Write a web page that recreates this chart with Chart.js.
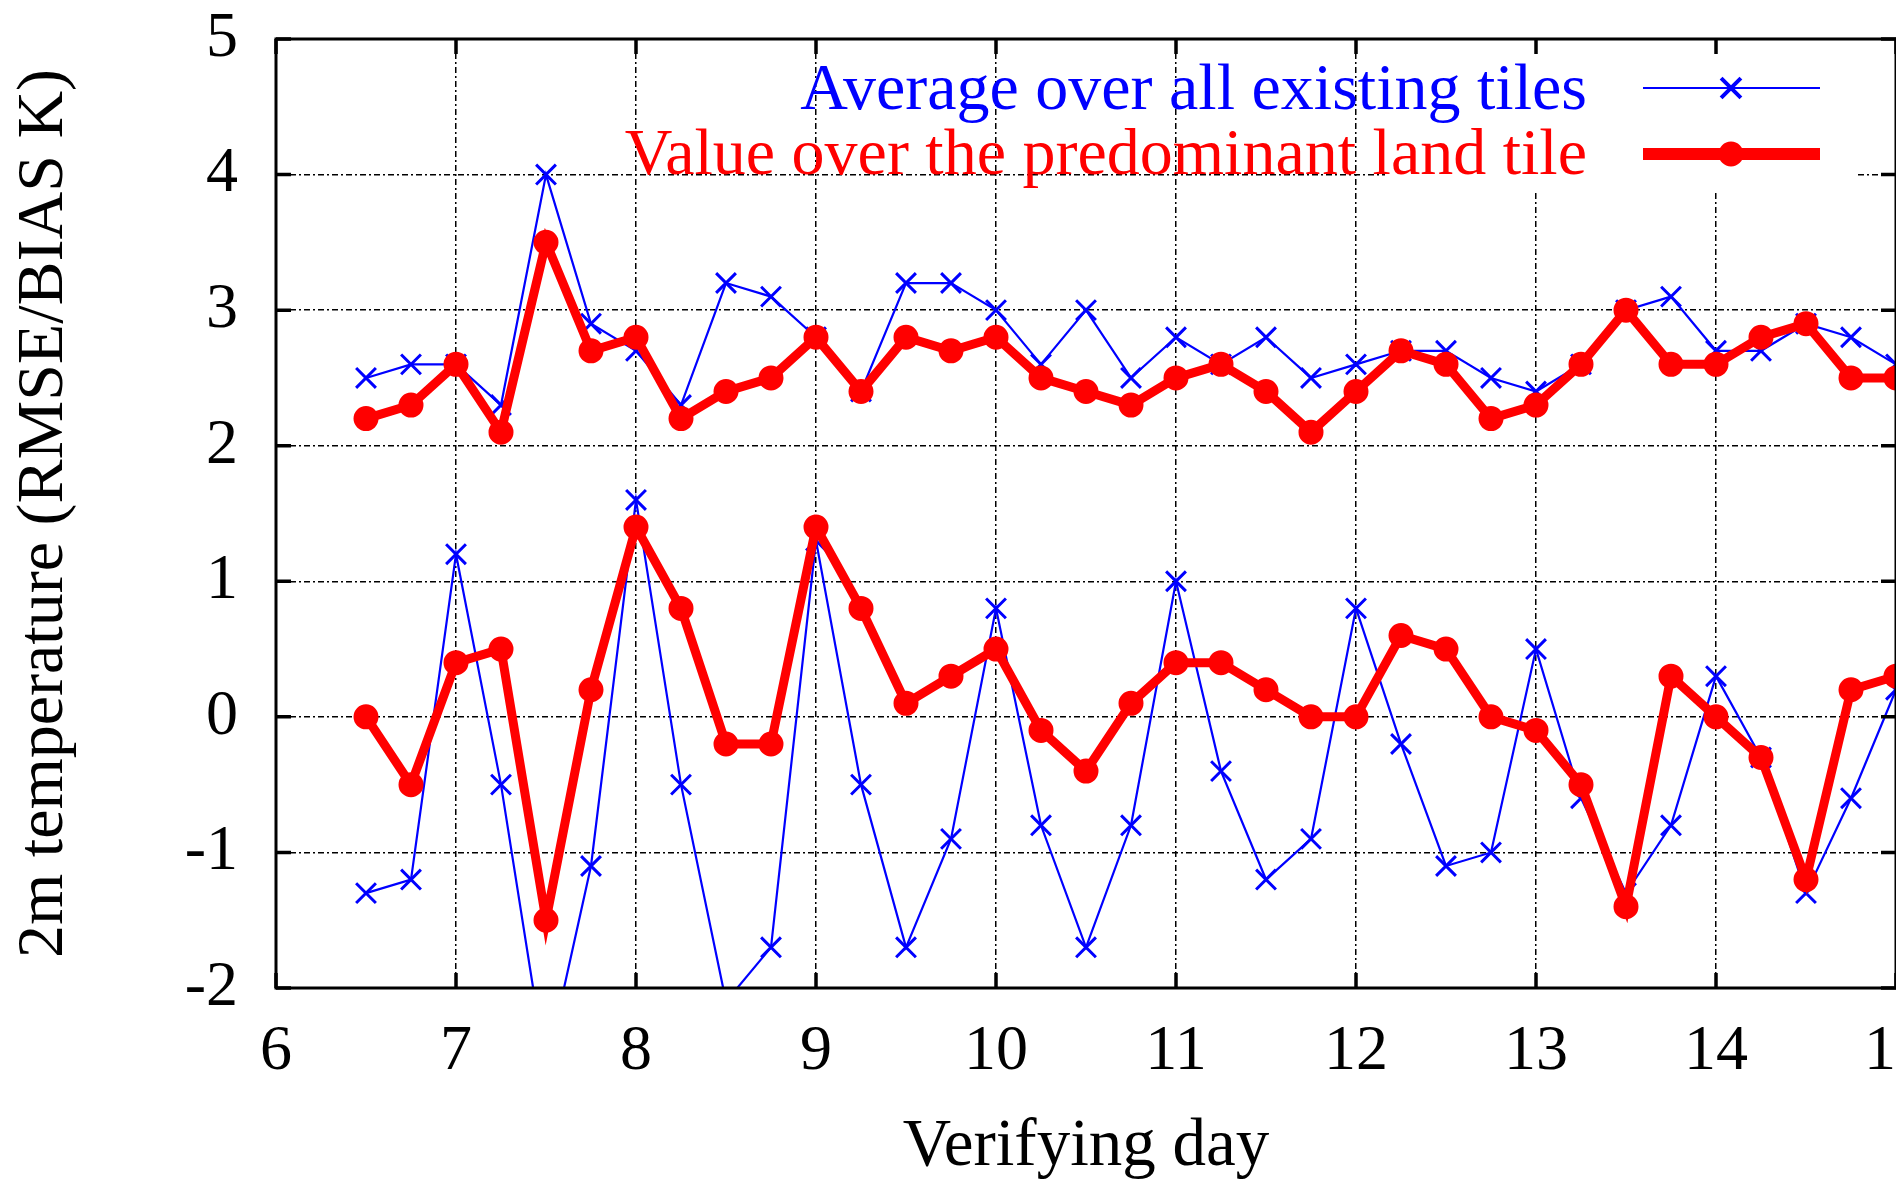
<!DOCTYPE html>
<html>
<head>
<meta charset="utf-8">
<script src="https://cdn.jsdelivr.net/npm/chart.js@4/dist/chart.umd.min.js"></script>
<style>
html,body{margin:0;padding:0;background:#fff;overflow:hidden;width:1896px;height:1186px}
#wrap{position:relative;width:2100px;height:1186px}
canvas{display:block}
</style>
</head>
<body>
<div id="wrap"><canvas id="c" width="2100" height="1186"></canvas></div>
<script>
// ---- data ----
const verifyingDays = [6.5,6.75,7,7.25,7.5,7.75,8,8.25,8.5,8.75,9,9.25,9.5,9.75,10,10.25,10.5,10.75,11,11.25,11.5,11.75,12,12.25,12.5,12.75,13,13.25,13.5,13.75,14,14.25,14.5,14.75,15];
const avgRmse  = [2.5,2.6,2.6,2.3,4.0,2.9,2.7,2.3,3.2,3.1,2.8,2.4,3.2,3.2,3.0,2.6,3.0,2.5,2.8,2.6,2.8,2.5,2.6,2.7,2.7,2.5,2.4,2.6,3.0,3.1,2.7,2.7,2.9,2.8,2.6];
const avgBias  = [-1.3,-1.2,1.2,-0.5,-2.6,-1.1,1.6,-0.5,-2.1,-1.7,1.3,-0.5,-1.7,-0.9,0.8,-0.8,-1.7,-0.8,1.0,-0.4,-1.2,-0.9,0.8,-0.2,-1.1,-1.0,0.5,-0.6,-1.3,-0.8,0.3,-0.3,-1.3,-0.6,0.2];
const landRmse = [2.2,2.3,2.6,2.1,3.5,2.7,2.8,2.2,2.4,2.5,2.8,2.4,2.8,2.7,2.8,2.5,2.4,2.3,2.5,2.6,2.4,2.1,2.4,2.7,2.6,2.2,2.3,2.6,3.0,2.6,2.6,2.8,2.9,2.5,2.5];
const landBias = [0.0,-0.5,0.4,0.5,-1.5,0.2,1.4,0.8,-0.2,-0.2,1.4,0.8,0.1,0.3,0.5,-0.1,-0.4,0.1,0.4,0.4,0.2,0.0,0.0,0.6,0.5,0.0,-0.1,-0.5,-1.4,0.3,0.0,-0.3,-1.2,0.2,0.3];
const xTickLabels = ['6','7','8','9','10','11','12','13','14','15'];
const yTickLabels = ['-2','-1','0','1','2','3','4','5'];
const legendLabels = ['Average over all existing tiles', 'Value over the predominant land tile'];
const xTitle = 'Verifying day';
const yTitle = '2m temperature (RMSE/BIAS K)';

const BLUE = '#0000ff', RED = '#ff0000';
const FONT = "'Liberation Serif', 'Times New Roman', serif";

function pts(arr){ return verifyingDays.map((d,i)=>({x:d, y:arr[i]})); }

const blueStyle = {borderColor:BLUE, backgroundColor:BLUE, borderWidth:2.2, pointStyle:'crossRot', pointRadius:14, pointBorderWidth:3, pointBorderColor:BLUE, pointBackgroundColor:BLUE, order:1, clip:1, tension:0, fill:false};
const redStyle  = {borderColor:RED, backgroundColor:RED, borderWidth:9, pointStyle:'circle', pointRadius:11, pointBorderWidth:3, pointBorderColor:RED, pointBackgroundColor:RED, order:0, clip:1, tension:0, fill:false};

const framePlugin = {
  id:'frame',
  beforeDatasetsDraw(chart){
    const {ctx, chartArea:a} = chart;
    ctx.save();
    ctx.fillStyle = '#fff';
    ctx.fillRect(1385, a.top + 2, 1857 - 1385, 190 - a.top - 2);
    ctx.restore();
  },
  afterDatasetsDraw(chart){
    const {ctx, chartArea:a, scales:{x, y}} = chart;
    ctx.save();
    const rows = [
      {label: legendLabels[0], color: BLUE, textY: 109, lineY: 88, lw: 2.2, style: 'crossRot', r: 14, pbw: 4},
      {label: legendLabels[1], color: RED,  textY: 174, lineY: 154, lw: 12, style: 'circle', r: 11, pbw: 3}
    ];
    ctx.font = '66px ' + FONT;
    ctx.textAlign = 'right';
    ctx.textBaseline = 'alphabetic';
    rows.forEach(r => {
      ctx.fillStyle = r.color;
      ctx.fillText(r.label, 1587, r.textY);
      ctx.strokeStyle = r.color;
      ctx.lineWidth = r.lw;
      ctx.setLineDash([]);
      ctx.beginPath(); ctx.moveTo(1643, r.lineY); ctx.lineTo(1820, r.lineY); ctx.stroke();
      ctx.lineWidth = r.pbw;
      Chart.helpers.drawPoint(ctx, {pointStyle: r.style, radius: r.r, borderWidth: r.pbw, rotation: 0}, 1731, r.lineY);
    });
    ctx.strokeStyle = '#000';
    ctx.lineWidth = 3;
    ctx.strokeRect(a.left, a.top, a.right - a.left, a.bottom - a.top);
    const tl = 15;
    ctx.lineWidth = 3.5;
    ctx.beginPath();
    x.ticks.forEach(t => {
      const px = x.getPixelForValue(t.value);
      ctx.moveTo(px, a.bottom); ctx.lineTo(px, a.bottom - tl);
      ctx.moveTo(px, a.top); ctx.lineTo(px, a.top + tl);
    });
    y.ticks.forEach(t => {
      const py = y.getPixelForValue(t.value);
      ctx.moveTo(a.left, py); ctx.lineTo(a.left + tl, py);
      ctx.moveTo(a.right, py); ctx.lineTo(a.right - tl, py);
    });
    ctx.stroke();
    ctx.restore();
  }
};

new Chart(document.getElementById('c'), {
  type: 'line',
  data: {
    datasets: [
      Object.assign({label: legendLabels[0], data: pts(avgRmse)}, blueStyle),
      Object.assign({label: legendLabels[0] + ' (bias)', data: pts(avgBias)}, blueStyle),
      Object.assign({label: legendLabels[1], data: pts(landRmse)}, redStyle),
      Object.assign({label: legendLabels[1] + ' (bias)', data: pts(landBias)}, redStyle)
    ]
  },
  options: {
    responsive: false,
    animation: false,
    devicePixelRatio: 1,
    layout: {padding: {left: 0, right: 204, top: 39, bottom: 0}},
    plugins: {legend: {display: false}, tooltip: {enabled: false}, title: {display: false}},
    scales: {
      x: {
        type: 'linear', min: 6, max: 15,
        afterFit(s){ s.height = 198; s.paddingLeft = 0; s.paddingRight = 0; },
        ticks: {stepSize: 1, autoSkip: false, padding: 26, color: '#000', font: {family: FONT, size: 64, lineHeight: 1.2},
          callback: (v) => xTickLabels[Math.round(v) - 6]},
        grid: {color: '#000', lineWidth: 1.5, drawTicks: false},
        border: {display: false, dash: [6, 3, 2, 3]},
        title: {display: true, text: xTitle, color: '#000', font: {family: FONT, size: 67, lineHeight: 1}, padding: {top: 0, bottom: 5}}
      },
      y: {
        type: 'linear', min: -2, max: 5,
        afterFit(s){ s.width = 276; s.paddingTop = 0; s.paddingBottom = 0; },
        ticks: {stepSize: 1, padding: 38, color: '#000', font: {family: FONT, size: 64, lineHeight: 1.2},
          callback: (v) => yTickLabels[Math.round(v) + 2]},
        grid: {color: '#000', lineWidth: 1.5, drawTicks: false},
        border: {display: false, dash: [6, 3, 2, 3]},
        title: {display: true, text: yTitle, color: '#000', font: {family: FONT, size: 66, lineHeight: 1}, padding: {top: 12, bottom: 0}}
      }
    }
  },
  plugins: [framePlugin]
});
</script>
</body>
</html>
